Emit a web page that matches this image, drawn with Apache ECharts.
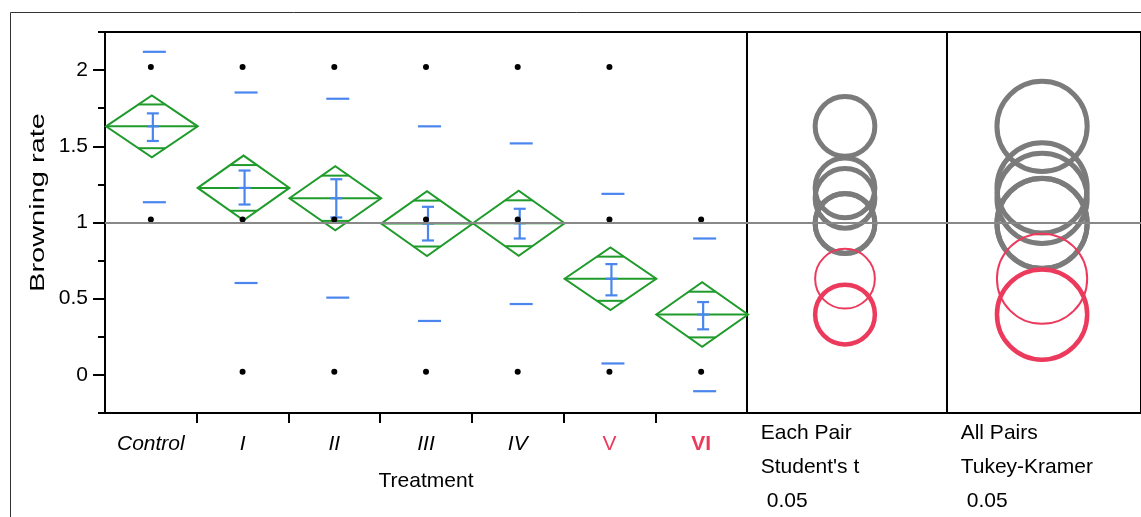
<!DOCTYPE html>
<html><head><meta charset="utf-8">
<script src="https://cdn.jsdelivr.net/npm/echarts@6/dist/echarts.min.js"></script>
<style>html,body{margin:0;padding:0;background:#fff}#c{width:1141px;height:517px}</style>
</head><body><div id="c"></div>
<script>
// ---- data ----
const categories = ['Control', 'I', 'II', 'III', 'IV', 'V', 'VI'];
const points = [
  [2.02, 1.02],
  [2.02, 1.02, 0.02],
  [2.02, 1.02, 0.02],
  [2.02, 1.02, 0.02],
  [2.02, 1.02, 0.02],
  [2.02, 1.02, 0.02],
  [1.02, 0.02]
];
const means  = [1.631, 1.227, 1.159, 0.993, 0.995, 0.631, 0.396];
const ciHalf = [0.203, 0.212, 0.210, 0.213, 0.213, 0.205, 0.212];
const seHi   = [1.716, 1.341, 1.284, 1.103, 1.090, 0.727, 0.478];
const seLo   = [1.535, 1.118, 1.033, 0.882, 0.895, 0.522, 0.299];
const sdHi   = [2.120, 1.853, 1.812, 1.631, 1.519, 1.188, 0.895];
const sdLo   = [1.133, 0.603, 0.507, 0.354, 0.465, 0.075, -0.107];
const grandMean = 1.0;
const studentRadius = 0.196;
const tukeyRadius = 0.296;
const circleGroup = ['diff', 'diff', 'diff', 'diff', 'diff', 'same', 'selected'];
const yMajorTicks = [0, 0.5, 1, 1.5, 2];
const yMinorTicks = [-0.25, 0.25, 0.75, 1.25, 1.75, 2.25];
const xBoundaryTicks = [1, 2, 3, 4, 5, 6];
const studentLabels = ['Each Pair', "Student's t", '0.05'];
const tukeyLabels = ['All Pairs', 'Tukey-Kramer', '0.05'];

// ---- styling ----
const FONT = '"Liberation Sans", Arial, sans-serif';
const GREEN = '#1f9b2b';
const BLUE = '#4a86ee';
const RED = '#ec3a5c';
const GRAY = '#7b7b7b';
const LINEGRAY = '#888888';
const Y_MIN = -0.25, Y_MAX = 2.25;

const labelStyles = {
  Control: { fontStyle: 'italic', color: '#000' },
  I: { fontStyle: 'italic', color: '#000' },
  II: { fontStyle: 'italic', color: '#000' },
  III: { fontStyle: 'italic', color: '#000' },
  IV: { fontStyle: 'italic', color: '#000' },
  V: { fontStyle: 'normal', color: RED },
  VI: { fontStyle: 'normal', fontWeight: 'bold', color: RED }
};

const chart = echarts.init(document.getElementById('c'), null, { renderer: 'canvas' });

const dotData = [];
points.forEach((arr, i) => arr.forEach(v => dotData.push([i, v])));
const groupData = means.map((m, i) => [i, m, ciHalf[i], seLo[i], seHi[i], sdLo[i], sdHi[i]]);
const circleData = means.map((m, i) => [i, m]);

function circleRender(radius) {
  return function (params, api) {
    const idx = api.value(0);
    const m = api.value(1);
    const c = api.coord([0.49, m]);
    const r = api.size([0, radius])[1];
    const g = circleGroup[idx];
    return {
      type: 'circle',
      shape: { cx: c[0], cy: c[1], r: r },
      style: {
        fill: 'none',
        stroke: g === 'diff' ? GRAY : RED,
        lineWidth: g === 'same' ? 2 : (g === 'selected' ? 4.5 : 5)
      }
    };
  };
}

const baseLine = (xi, yi) => ({
  type: 'scatter', xAxisIndex: xi, yAxisIndex: yi, data: [], z: 1, silent: true,
  markLine: {
    silent: true, symbol: 'none', animation: false,
    label: { show: false },
    lineStyle: { color: LINEGRAY, width: 2, type: 'solid' },
    data: [{ yAxis: grandMean }]
  }
});

const hiddenY = (gi) => ({
  type: 'value', gridIndex: gi, min: Y_MIN, max: Y_MAX,
  axisLine: { show: false, onZero: false }, axisTick: { show: false }, axisLabel: { show: false }, splitLine: { show: false }
});
const hiddenX = (gi) => ({
  type: 'value', gridIndex: gi, min: 0, max: 1,
  axisLine: { show: false, onZero: false }, axisTick: { show: false }, axisLabel: { show: false }, splitLine: { show: false }
});

const option = {
  animation: false,
  backgroundColor: '#fff',
  textStyle: { fontFamily: FONT },
  grid: [
    { left: 105, top: 32, width: 642, height: 381, show: true, borderColor: '#000', borderWidth: 2, backgroundColor: 'transparent' },
    { left: 747, top: 32, width: 200, height: 381, show: true, borderColor: '#000', borderWidth: 2, backgroundColor: 'transparent' },
    { left: 947, top: 32, width: 200, height: 381, show: true, borderColor: '#000', borderWidth: 2, backgroundColor: 'transparent' }
  ],
  xAxis: [
    {
      type: 'category', gridIndex: 0, boundaryGap: true,
      data: categories.map(c => ({ value: c, textStyle: labelStyles[c] })),
      axisLine: { show: false, onZero: false }, axisTick: { show: false }, splitLine: { show: false },
      axisLabel: { fontSize: 21, fontFamily: FONT, margin: 21, interval: 0, color: '#000' },
      name: 'Treatment', nameLocation: 'middle', nameGap: 58,
      nameTextStyle: { fontSize: 21, fontFamily: FONT, color: '#000' }
    },
    {
      type: 'value', gridIndex: 0, min: 0, max: 7, position: 'bottom',
      axisLine: { show: false, onZero: false }, axisLabel: { show: false }, splitLine: { show: false },
      axisTick: { show: true, inside: false, length: 10, customValues: xBoundaryTicks, lineStyle: { color: '#000', width: 2 } }
    },
    hiddenX(1),
    hiddenX(2)
  ],
  yAxis: [
    {
      type: 'value', gridIndex: 0, min: Y_MIN, max: Y_MAX, position: 'left',
      axisLine: { show: false, onZero: false }, splitLine: { show: false },
      axisTick: { show: true, length: 12, customValues: yMajorTicks, lineStyle: { color: '#000', width: 2 } },
      axisLabel: { show: true, customValues: yMajorTicks, fontSize: 21, fontFamily: FONT, color: '#000', margin: 17 }
    },
    {
      type: 'value', gridIndex: 0, min: Y_MIN, max: Y_MAX, position: 'left',
      axisLine: { show: false, onZero: false }, splitLine: { show: false }, axisLabel: { show: false },
      axisTick: { show: true, length: 7, customValues: yMinorTicks, lineStyle: { color: '#000', width: 2 } }
    },
    hiddenY(1),
    hiddenY(2)
  ],
  graphic: [
    { type: 'rect', silent: true, z: -10, shape: { x: 10.5, y: 12.5, width: 1200, height: 600 }, style: { fill: 'none', stroke: '#333', lineWidth: 1 } },
    { type: 'text', silent: true, x: 38.3, y: 202.5, rotation: Math.PI / 2, scaleX: 1.45,
      style: { text: 'Browning rate', font: '20px ' + FONT, fill: '#000', align: 'center', verticalAlign: 'middle', textAlign: 'center', textVerticalAlign: 'middle' } },
    ...studentLabels.map((t, k) => ({ type: 'text', silent: true, x: k === 2 ? 766.7 : 760.7, y: 433.5 + k * 33.8,
      style: { text: t, font: '21px ' + FONT, fill: '#000', align: 'left', verticalAlign: 'middle', textAlign: 'left', textVerticalAlign: 'middle' } })),
    ...tukeyLabels.map((t, k) => ({ type: 'text', silent: true, x: k === 2 ? 966.7 : 960.7, y: 433.5 + k * 33.8,
      style: { text: t, font: '21px ' + FONT, fill: '#000', align: 'left', verticalAlign: 'middle', textAlign: 'left', textVerticalAlign: 'middle' } }))
  ],
  series: [
    baseLine(0, 0),
    baseLine(2, 2),
    baseLine(3, 3),
    {
      type: 'custom', xAxisIndex: 0, yAxisIndex: 0, z: 2, silent: true,
      data: groupData,
      renderItem: function (params, api) {
        const i = api.value(0), m = api.value(1), c = api.value(2);
        const ctr = api.coord([i, m]);
        const cx = ctr[0] + 1, cy = ctr[1];
        const top = api.coord([i, m + c])[1];
        const bot = api.coord([i, m - c])[1];
        const hw = api.size([1, 0])[0] / 2;
        const ovTop = api.coord([i, m + c * Math.SQRT1_2])[1];
        const ovBot = api.coord([i, m - c * Math.SQRT1_2])[1];
        const ow = hw * (1 - Math.SQRT1_2);
        const st = { stroke: GREEN, lineWidth: 2, fill: 'none' };
        return {
          type: 'group',
          children: [
            { type: 'polygon', shape: { points: [[cx - hw, cy], [cx, top], [cx + hw, cy], [cx, bot]] }, style: st },
            { type: 'line', shape: { x1: cx - hw, y1: cy, x2: cx + hw, y2: cy }, style: st },
            { type: 'line', shape: { x1: cx - ow, y1: ovTop, x2: cx + ow, y2: ovTop }, style: st },
            { type: 'line', shape: { x1: cx - ow, y1: ovBot, x2: cx + ow, y2: ovBot }, style: st }
          ]
        };
      }
    },
    {
      type: 'custom', xAxisIndex: 0, yAxisIndex: 0, z: 3, silent: true,
      data: groupData,
      renderItem: function (params, api) {
        const i = api.value(0), m = api.value(1);
        const cx = api.coord([i, m])[0];
        const cy = api.coord([i, m])[1];
        const sl = api.coord([i, api.value(3)])[1];
        const sh = api.coord([i, api.value(4)])[1];
        const dl = api.coord([i, api.value(5)])[1];
        const dh = api.coord([i, api.value(6)])[1];
        const bx = cx + 2, dx = cx + 3.5;
        const st = { stroke: BLUE, lineWidth: 2.2, fill: 'none' };
        return {
          type: 'group',
          children: [
            { type: 'line', shape: { x1: bx, y1: sl, x2: bx, y2: sh }, style: st },
            { type: 'line', shape: { x1: bx - 6, y1: sh, x2: bx + 6, y2: sh }, style: st },
            { type: 'line', shape: { x1: bx - 6, y1: sl, x2: bx + 6, y2: sl }, style: st },
            { type: 'line', shape: { x1: bx - 6, y1: cy, x2: bx + 6, y2: cy }, style: st },
            { type: 'line', shape: { x1: dx - 11.5, y1: dh, x2: dx + 11.5, y2: dh }, style: st },
            { type: 'line', shape: { x1: dx - 11.5, y1: dl, x2: dx + 11.5, y2: dl }, style: st }
          ]
        };
      }
    },
    {
      type: 'scatter', xAxisIndex: 0, yAxisIndex: 0, z: 4, silent: true,
      data: dotData, symbol: 'circle', symbolSize: 6,
      itemStyle: { color: '#000', opacity: 1 }
    },
    {
      type: 'custom', xAxisIndex: 2, yAxisIndex: 2, z: 2, silent: true,
      data: circleData, renderItem: circleRender(studentRadius)
    },
    {
      type: 'custom', xAxisIndex: 3, yAxisIndex: 3, z: 2, silent: true,
      data: circleData, renderItem: circleRender(tukeyRadius)
    }
  ]
};
chart.setOption(option);
</script>
</body></html>
